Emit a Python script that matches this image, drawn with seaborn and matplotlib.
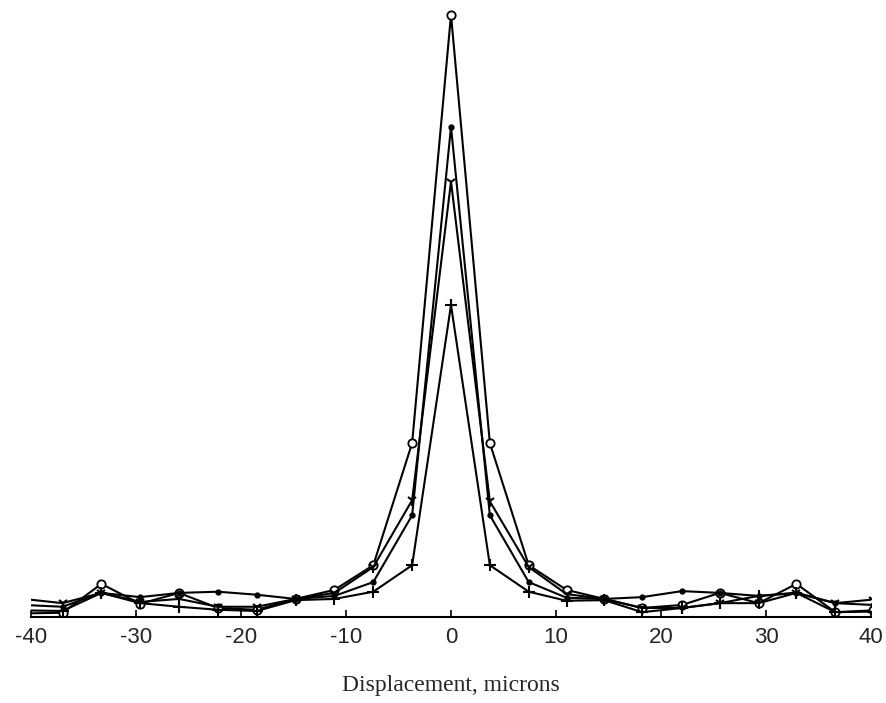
import numpy as np
import pandas as pd
import matplotlib
matplotlib.use("Agg")
import matplotlib.pyplot as plt
import seaborn as sns

# Sample positions (microns) for each profile, left tail to right tail
x_pos = [-40.7, -37.0, -33.3, -29.6, -25.9, -22.2, -18.5, -14.8, -11.1, -7.4, -3.7,
         0.0,
         3.7, 7.4, 11.0, 14.6, 18.2, 22.0, 25.6, 29.3, 32.9, 36.6, 40.2]

# Relative intensity profiles (peak of the strongest profile = 100)
profile_a = [0.6, 0.7, 5.5, 2.2, 4.0, 1.5, 1.2, 3.0, 4.5, 8.6, 28.9,
             100.0,
             28.9, 8.6, 4.5, 3.0, 1.5, 2.0, 4.0, 2.3, 5.5, 0.8, 1.1]
profile_b = [2.0, 1.7, 4.0, 3.3, 4.0, 4.2, 3.7, 3.0, 3.5, 5.8, 16.9,
             81.4,
             16.9, 5.8, 3.2, 3.0, 3.3, 4.3, 4.0, 3.5, 4.0, 2.3, 2.0]
profile_c = [3.0, 2.3, 4.0, 2.5, 3.0, 1.7, 1.7, 3.0, 4.0, 8.3, 19.4,
             72.3,
             19.2, 8.3, 3.8, 3.0, 1.5, 1.5, 2.3, 2.3, 4.0, 2.3, 2.9]
profile_d = [1.1, 1.0, 4.0, 2.3, 1.7, 1.2, 1.0, 2.8, 3.0, 4.2, 8.6,
             51.8,
             8.6, 4.2, 2.7, 2.8, 0.8, 1.5, 2.3, 3.5, 4.0, 0.8, 0.9]

x_ticks = [-40, -30, -20, -10, 0, 10, 20, 30, 40]
x_label = "Displacement, microns"

profiles = {"a": profile_a, "b": profile_b, "c": profile_c, "d": profile_d}
styles = {
    "a": dict(marker="o", markersize=6, markerfacecolor="white", markeredgewidth=1.3),
    "b": dict(marker="o", markersize=3.5, markerfacecolor="black", markeredgewidth=1.0),
    "c": dict(marker="1", markersize=8, markeredgewidth=1.5),
    "d": dict(marker="+", markersize=8, markeredgewidth=1.5),
}

df = pd.concat(
    [pd.DataFrame({"x": x_pos, "value": v, "profile": k}) for k, v in profiles.items()],
    ignore_index=True,
)

sns.set_style("ticks")
plt.rcParams["font.family"] = ["Liberation Sans", "DejaVu Sans"]

fig = plt.figure(figsize=(8.86, 7.03), dpi=100)
ax = fig.add_axes([31 / 886, 86 / 703, (871 - 31) / 886, (617 - 10) / 703])

for key, sub in df.groupby("profile"):
    sns.lineplot(data=sub, x="x", y="value", ax=ax, color="black", linewidth=1.5,
                 markeredgecolor="black", sort=False, estimator=None, legend=False,
                 **styles[key])

ax.set_xlim(-40, 40)
ax.set_ylim(0, 100.8)
ax.set_xticks(x_ticks)
ax.set_xticklabels([str(t) for t in x_ticks], fontsize=16)
ax.set_yticks([])
ax.set_ylabel("")
ax.set_xlabel(x_label, fontsize=17, family=["Liberation Serif", "DejaVu Serif"], labelpad=20)
ax.tick_params(axis="x", direction="in", length=5, width=1.2, pad=7, color="black")
for side in ("top", "right", "left"):
    ax.spines[side].set_visible(False)
ax.spines["bottom"].set_linewidth(1.5)
ax.spines["bottom"].set_color("black")

fig.savefig("out.png", dpi=100, facecolor="white")
